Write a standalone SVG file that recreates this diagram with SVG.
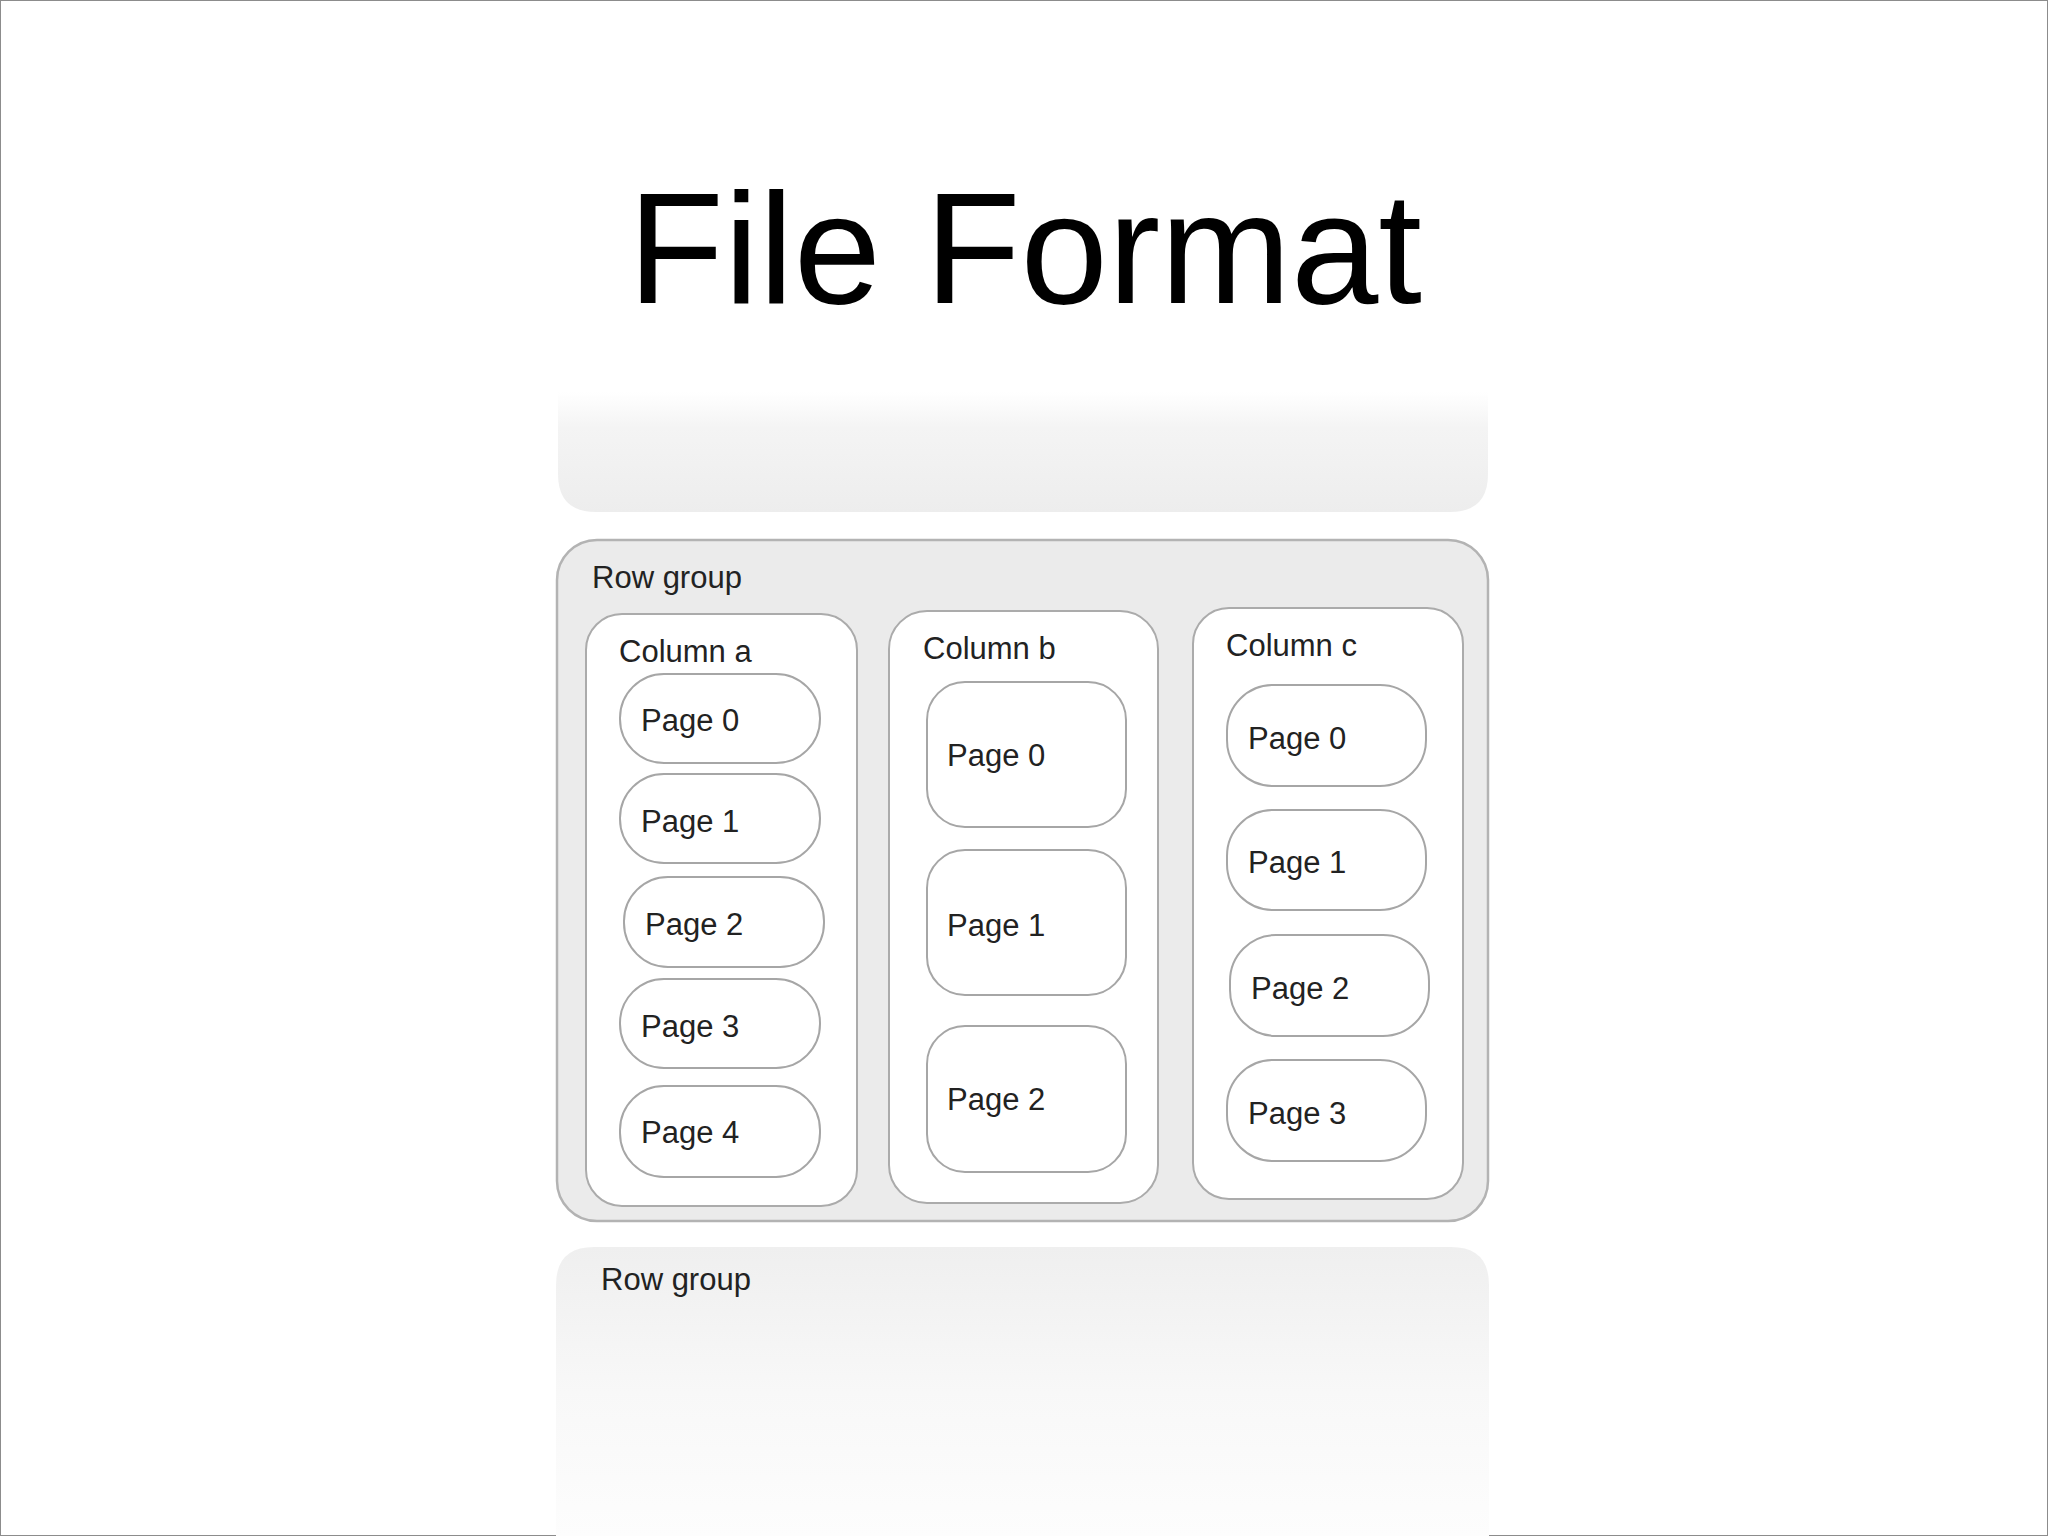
<svg xmlns="http://www.w3.org/2000/svg" width="2048" height="1536" viewBox="0 0 2048 1536">
<style>
.lbl{font-family:"Liberation Sans",Arial,Helvetica,sans-serif;font-size:31px;fill:#222222}
.title{font-family:"Liberation Sans",Arial,Helvetica,sans-serif;font-size:157px;fill:#000}
.rg{fill:#ebebeb;stroke:#b3b3b3;stroke-width:2.5}
.col{fill:#ffffff;stroke:#ababab;stroke-width:2}
.pg{fill:#ffffff;stroke:#a6a6a6;stroke-width:2}
</style>
<defs>
<linearGradient id="fadeTop" x1="0" y1="0" x2="0" y2="1">
<stop offset="0" stop-color="#ffffff"/>
<stop offset="0.3" stop-color="#f4f4f4"/>
<stop offset="1" stop-color="#ededed"/>
</linearGradient>
<linearGradient id="fadeBot" x1="0" y1="0" x2="0" y2="1">
<stop offset="0" stop-color="#efefef"/>
<stop offset="0.5" stop-color="#f8f8f8"/>
<stop offset="1" stop-color="#fdfdfd"/>
</linearGradient>
</defs>
<rect x="0.5" y="0.5" width="2047" height="1535" fill="#ffffff" stroke="#8c8c8c" stroke-width="1"/>
<text class="title" x="1025" y="303" text-anchor="middle">File Format</text>

<g id="rowgroup-top-faded">
<path d="M558 392 H1488 V474 Q1488 512 1450 512 H596 Q558 512 558 474 Z" fill="url(#fadeTop)"/>
</g>

<g id="rowgroup-main">
<rect class="rg" x="557" y="540" width="931" height="681" rx="40" ry="40"/>
<text class="lbl" x="592" y="588">Row group</text>
</g>

<g id="column-a">
<rect class="col" x="586" y="614" width="271" height="592" rx="36" ry="36"/>
<text class="lbl" x="619" y="662">Column a</text>
</g>
<g id="col-a-page-0"><rect class="pg" x="620" y="674" width="200" height="89" rx="44" ry="44"/><text class="lbl" x="641" y="731">Page 0</text></g>
<g id="col-a-page-1"><rect class="pg" x="620" y="774" width="200" height="89" rx="44" ry="44"/><text class="lbl" x="641" y="832">Page 1</text></g>
<g id="col-a-page-2"><rect class="pg" x="624" y="877" width="200" height="90" rx="44" ry="44"/><text class="lbl" x="645" y="935">Page 2</text></g>
<g id="col-a-page-3"><rect class="pg" x="620" y="979" width="200" height="89" rx="44" ry="44"/><text class="lbl" x="641" y="1037">Page 3</text></g>
<g id="col-a-page-4"><rect class="pg" x="620" y="1086" width="200" height="91" rx="44" ry="44"/><text class="lbl" x="641" y="1143">Page 4</text></g>

<g id="column-b">
<rect class="col" x="889" y="611" width="269" height="592" rx="38" ry="38"/>
<text class="lbl" x="923" y="659">Column b</text>
</g>
<g id="col-b-page-0"><rect class="pg" x="927" y="682" width="199" height="145" rx="38" ry="38"/><text class="lbl" x="947" y="766">Page 0</text></g>
<g id="col-b-page-1"><rect class="pg" x="927" y="850" width="199" height="145" rx="38" ry="38"/><text class="lbl" x="947" y="936">Page 1</text></g>
<g id="col-b-page-2"><rect class="pg" x="927" y="1026" width="199" height="146" rx="38" ry="38"/><text class="lbl" x="947" y="1110">Page 2</text></g>

<g id="column-c">
<rect class="col" x="1193" y="608" width="270" height="591" rx="36" ry="36"/>
<text class="lbl" x="1226" y="656">Column c</text>
</g>
<g id="col-c-page-0"><rect class="pg" x="1227" y="685" width="199" height="101" rx="46" ry="46"/><text class="lbl" x="1248" y="749">Page 0</text></g>
<g id="col-c-page-1"><rect class="pg" x="1227" y="810" width="199" height="100" rx="46" ry="46"/><text class="lbl" x="1248" y="873">Page 1</text></g>
<g id="col-c-page-2"><rect class="pg" x="1230" y="935" width="199" height="101" rx="46" ry="46"/><text class="lbl" x="1251" y="999">Page 2</text></g>
<g id="col-c-page-3"><rect class="pg" x="1227" y="1060" width="199" height="101" rx="46" ry="46"/><text class="lbl" x="1248" y="1124">Page 3</text></g>

<g id="rowgroup-bottom-faded">
<path d="M556 1536 V1285 Q556 1247 594 1247 H1451 Q1489 1247 1489 1285 V1536 Z" fill="url(#fadeBot)"/>
<text class="lbl" x="601" y="1290">Row group</text>
</g>

<g id="connectors"></g>
</svg>
